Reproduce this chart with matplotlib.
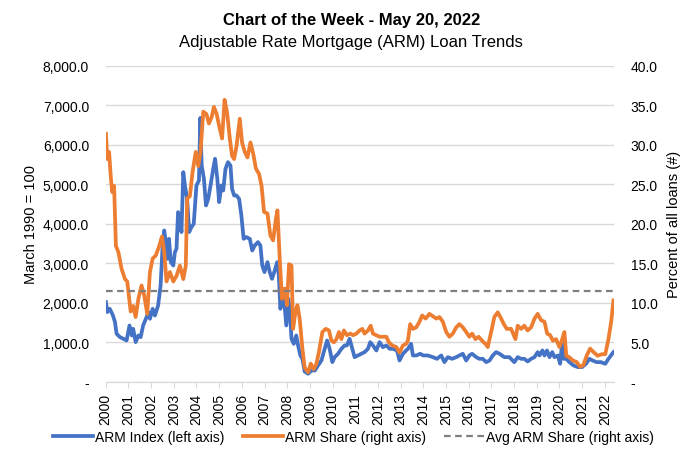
import matplotlib
matplotlib.use("Agg")
import matplotlib.pyplot as plt
from matplotlib.ticker import FuncFormatter

plt.rcParams['font.family'] = ['Liberation Sans', 'DejaVu Sans']

# ARM share (% of all loans), right axis
share_t = [2000.01, 2000.07, 2000.15, 2000.23, 2000.29, 2000.37, 2000.45, 2000.56, 2000.70, 2000.85,
           2000.95, 2001.10, 2001.21, 2001.32, 2001.44, 2001.58, 2001.70, 2001.83, 2001.95, 2002.07,
           2002.21, 2002.36, 2002.48, 2002.58, 2002.68, 2002.83, 2002.98, 2003.12, 2003.27, 2003.42,
           2003.53, 2003.59, 2003.71, 2003.83, 2003.97, 2004.08, 2004.18, 2004.30, 2004.44, 2004.55,
           2004.67, 2004.77, 2004.89, 2005.00, 2005.13, 2005.24, 2005.35, 2005.47, 2005.57, 2005.66,
           2005.77, 2005.91, 2006.01, 2006.13, 2006.25, 2006.38, 2006.50, 2006.62, 2006.76, 2006.87,
           2006.98, 2007.13, 2007.26, 2007.38, 2007.50, 2007.57, 2007.67, 2007.77, 2007.89, 2007.99,
           2008.08, 2008.19, 2008.26, 2008.36, 2008.45, 2008.55, 2008.67, 2008.77, 2008.92, 2009.04,
           2009.17, 2009.29, 2009.40, 2009.55, 2009.70, 2009.84, 2009.95, 2010.06, 2010.17, 2010.28,
           2010.39, 2010.50, 2010.63, 2010.78, 2010.90, 2011.05, 2011.19, 2011.31, 2011.41, 2011.56,
           2011.68, 2011.78, 2011.93, 2012.07, 2012.22, 2012.37, 2012.48, 2012.63, 2012.81, 2012.95,
           2013.10, 2013.24, 2013.32, 2013.42, 2013.54, 2013.69, 2013.83, 2013.95, 2014.10, 2014.27,
           2014.42, 2014.57, 2014.71, 2014.86, 2015.01, 2015.15, 2015.30, 2015.45, 2015.59, 2015.74,
           2015.89, 2016.03, 2016.15, 2016.30, 2016.44, 2016.59, 2016.74, 2016.84, 2016.99, 2017.13,
           2017.28, 2017.43, 2017.55, 2017.68, 2017.87, 2018.06, 2018.16, 2018.31, 2018.45, 2018.60,
           2018.75, 2018.90, 2019.04, 2019.19, 2019.34, 2019.46, 2019.59, 2019.71, 2019.85, 2020.00,
           2020.12, 2020.22, 2020.30, 2020.44, 2020.59, 2020.76, 2020.91, 2021.05, 2021.20, 2021.35,
           2021.49, 2021.68, 2021.88, 2022.02, 2022.16, 2022.28, 2022.38]
share_v = [31.4, 28.2, 29.1, 25.7, 24.0, 24.8, 17.2, 16.4, 14.3, 13.0,
           12.7, 8.9, 9.6, 8.2, 10.5, 12.2, 10.9, 8.6, 13.9, 15.6,
           16.0, 17.2, 18.4, 16.4, 12.7, 13.9, 12.7, 13.4, 14.7, 13.0,
           14.7, 23.2, 23.5, 26.6, 29.1, 27.3, 29.1, 34.2, 33.9, 32.7,
           33.5, 34.8, 33.9, 32.4, 30.8, 35.7, 34.1, 30.8, 28.6, 28.2,
           29.9, 33.3, 30.3, 29.1, 28.4, 30.3, 28.9, 27.0, 26.3, 24.8,
           21.5, 21.3, 18.5, 17.9, 20.6, 21.7, 15.6, 10.5, 11.8, 9.7,
           14.9, 14.7, 6.7, 8.8, 9.7, 8.0, 4.2, 1.8, 1.2, 2.3,
           1.6, 2.3, 3.8, 6.3, 6.7, 6.5, 5.2, 5.0, 5.4, 6.3,
           5.4, 6.5, 5.9, 6.1, 5.9, 6.1, 6.5, 6.7, 6.1, 6.5,
           7.1, 6.1, 5.9, 5.7, 5.7, 5.7, 5.0, 4.6, 4.4, 3.7,
           4.6, 4.8, 5.2, 7.3, 6.7, 6.9, 7.6, 8.4, 8.0, 8.6,
           8.3, 8.0, 8.2, 7.6, 6.3, 5.7, 6.1, 6.9, 7.3, 6.9,
           6.3, 5.7, 6.1, 5.4, 5.7, 5.2, 4.8, 4.4, 6.3, 8.2,
           8.8, 8.0, 7.3, 6.7, 6.7, 5.4, 7.1, 6.7, 7.1, 6.5,
           6.9, 8.0, 8.6, 7.8, 7.6, 6.1, 5.9, 5.2, 5.4, 4.4,
           5.4, 6.3, 3.3, 3.1, 2.7, 2.5, 1.9, 2.1, 3.3, 4.2,
           3.8, 3.3, 3.5, 3.5, 5.4, 7.6, 10.3]

# ARM index (March 1990 = 100), left axis
index_t = [2000.01, 2000.07, 2000.18, 2000.32, 2000.41, 2000.48, 2000.63, 2000.78, 2000.92, 2001.05,
           2001.15, 2001.21, 2001.32, 2001.44, 2001.54, 2001.65, 2001.77, 2001.89, 2001.95, 2002.07,
           2002.17, 2002.31, 2002.42, 2002.51, 2002.58, 2002.65, 2002.73, 2002.79, 2002.87, 2002.98,
           2003.05, 2003.12, 2003.19, 2003.27, 2003.34, 2003.42, 2003.49, 2003.59, 2003.68, 2003.78,
           2003.88, 2004.00, 2004.11, 2004.17, 2004.23, 2004.33, 2004.42, 2004.52, 2004.62, 2004.74,
           2004.82, 2004.92, 2005.00, 2005.10, 2005.18, 2005.28, 2005.39, 2005.50, 2005.57, 2005.66,
           2005.76, 2005.88, 2005.98, 2006.08, 2006.20, 2006.35, 2006.46, 2006.57, 2006.71, 2006.82,
           2006.90, 2007.00, 2007.13, 2007.23, 2007.33, 2007.45, 2007.56, 2007.63, 2007.70, 2007.77,
           2007.86, 2007.96, 2008.05, 2008.11, 2008.19, 2008.29, 2008.40, 2008.48, 2008.58, 2008.67,
           2008.77, 2008.92, 2009.07, 2009.22, 2009.36, 2009.51, 2009.61, 2009.76, 2009.87, 2009.99,
           2010.09, 2010.24, 2010.39, 2010.53, 2010.63, 2010.75, 2010.87, 2010.97, 2011.12, 2011.27,
           2011.41, 2011.56, 2011.66, 2011.78, 2011.93, 2012.07, 2012.22, 2012.37, 2012.52, 2012.66,
           2012.84, 2012.95, 2013.10, 2013.24, 2013.32, 2013.46, 2013.54, 2013.69, 2013.86, 2014.00,
           2014.20, 2014.42, 2014.60, 2014.79, 2014.93, 2015.08, 2015.27, 2015.45, 2015.59, 2015.74,
           2015.89, 2016.03, 2016.15, 2016.33, 2016.47, 2016.62, 2016.77, 2016.92, 2017.06, 2017.21,
           2017.36, 2017.57, 2017.79, 2018.01, 2018.16, 2018.31, 2018.45, 2018.60, 2018.75, 2018.90,
           2019.04, 2019.12, 2019.25, 2019.34, 2019.45, 2019.56, 2019.68, 2019.78, 2019.93, 2020.03,
           2020.12, 2020.19, 2020.30, 2020.44, 2020.62, 2020.81, 2021.00, 2021.17, 2021.32, 2021.46,
           2021.64, 2021.83, 2022.02, 2022.16, 2022.38]
index_v = [2018, 1765, 1848, 1678, 1511, 1215, 1131, 1089, 1046, 1426,
           1173, 1342, 1004, 1173, 1131, 1426, 1595, 1764, 1595, 1848,
           1678, 1932, 2438, 3451, 3831, 3536, 3114, 3620, 3030, 2945,
           3283, 3367, 4296, 4210, 3790, 5308, 4970, 4633, 3790, 3916,
           4000, 4970, 5097, 6680, 5476, 5139, 4464, 4633, 4970, 5392,
           5646, 5139, 4549, 4970, 4843, 5392, 5561, 5476, 4886, 4717,
           4717, 4633, 4210, 3620, 3663, 3620, 3325, 3451, 3536, 3451,
           2945, 2777, 3030, 2777, 2608, 2819, 3030, 2692, 1848, 2101,
           2101, 1426, 2101, 1848, 1089, 962, 1173, 920, 667, 582,
           260, 203, 287, 287, 414, 540, 751, 1046, 835, 498,
           624, 709, 835, 920, 920, 1089, 835, 624, 667, 709,
           751, 835, 1004, 920, 793, 1004, 877, 920, 835, 835,
           793, 540, 709, 793, 835, 962, 667, 667, 709, 667,
           667, 624, 582, 667, 498, 624, 582, 624, 667, 709,
           540, 667, 709, 624, 582, 582, 498, 540, 667, 751,
           709, 624, 624, 498, 624, 582, 582, 515, 582, 624,
           751, 667, 793, 667, 793, 624, 751, 624, 667, 456,
           1004, 582, 582, 498, 414, 372, 372, 456, 582, 540,
           498, 498, 456, 582, 751]

avg_share = 11.5
years = list(range(2000, 2023))

blue = '#4472C4'
orange = '#ED7D31'
gray = '#7F7F7F'

fig = plt.figure(figsize=(7, 4.64), dpi=100)
ax = fig.add_axes([0.151, 0.175, 0.726, 0.681])
ax2 = ax.twinx()

l1, = ax.plot(index_t, index_v, color=blue, lw=2.7, label='ARM Index (left axis)')
l2, = ax2.plot(share_t, share_v, color=orange, lw=2.7, label='ARM Share (right axis)')
l3 = ax2.axhline(avg_share, color=gray, lw=1.6, ls=(0, (3, 2)), label='Avg ARM Share (right axis)')

ax.set_xlim(2000, 2022.4)
ax.set_ylim(0, 8000)
ax2.set_ylim(0, 40)
ax.set_yticks(range(0, 8001, 1000))
ax2.set_yticks(range(0, 41, 5))
ax.yaxis.set_major_formatter(FuncFormatter(lambda v, p: '-' if v == 0 else f'{v:,.1f}'))
ax2.yaxis.set_major_formatter(FuncFormatter(lambda v, p: '-' if v == 0 else f'{v:.1f}'))
ax.grid(axis='y', color='#D9D9D9', lw=1)
ax.set_axisbelow(True)

ax.set_xticks(years)
ax.set_xticklabels([str(y) for y in years], rotation=90)

for a in (ax, ax2):
    for s in ('top', 'left', 'right'):
        a.spines[s].set_visible(False)
    a.spines['bottom'].set_color('#D9D9D9')
    a.tick_params(axis='y', length=0, labelsize=10, pad=12)
ax.tick_params(axis='x', length=4, color='#D9D9D9', labelsize=10, pad=4)

ax.set_ylabel('March 1990 = 100', fontsize=10.5, labelpad=3)
ax2.set_ylabel('Percent of all loans (#)', fontsize=10.5, labelpad=7)

fig.text(0.502, 0.955, 'Chart of the Week - May 20, 2022', ha='center', va='center',
         fontsize=12, fontweight='bold')
fig.text(0.502, 0.908, 'Adjustable Rate Mortgage (ARM) Loan Trends', ha='center', va='center',
         fontsize=12)

fig.legend(handles=[l1, l2, l3], loc='center', bbox_to_anchor=(0.505, 0.056), ncol=3,
           frameon=False, fontsize=10, handlelength=2.9, handletextpad=0.15, columnspacing=1.3)

fig.savefig('out.png', dpi=100)
